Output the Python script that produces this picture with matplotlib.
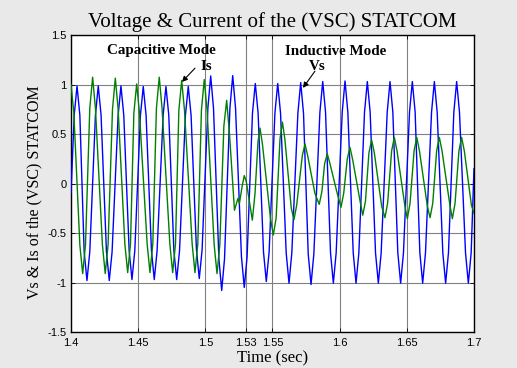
import matplotlib
matplotlib.use("Agg")
import matplotlib.pyplot as plt

# Vs (blue) (peaks, troughs, shoulders)
vs_t = [1.4000, 1.4024, 1.4045, 1.4066, 1.4098, 1.4119, 1.4140, 1.4182,
        1.4203, 1.4224, 1.4264, 1.4285, 1.4306, 1.4351, 1.4372, 1.4393,
        1.4433, 1.4454, 1.4475, 1.4517, 1.4538, 1.4559, 1.4599, 1.4620,
        1.4641, 1.4686, 1.4707, 1.4728, 1.4766, 1.4787, 1.4808, 1.4852,
        1.4873, 1.4894, 1.4934, 1.4955, 1.4976, 1.5019, 1.5040, 1.5061,
        1.5101, 1.5122, 1.5143, 1.5183, 1.5204, 1.5225, 1.5269, 1.5290,
        1.5311, 1.5351, 1.5372, 1.5393, 1.5433, 1.5454, 1.5475, 1.5518,
        1.5539, 1.5560, 1.5602, 1.5623, 1.5644, 1.5689, 1.5710, 1.5731,
        1.5766, 1.5787, 1.5808, 1.5853, 1.5874, 1.5895, 1.5932, 1.5953,
        1.5974, 1.6019, 1.6040, 1.6061, 1.6101, 1.6122, 1.6143, 1.6185,
        1.6206, 1.6227, 1.6267, 1.6288, 1.6309, 1.6354, 1.6375, 1.6396,
        1.6433, 1.6454, 1.6475, 1.6520, 1.6541, 1.6562, 1.6597, 1.6618,
        1.6639, 1.6684, 1.6705, 1.6726, 1.6768, 1.6789, 1.6810, 1.6850,
        1.6871, 1.6892, 1.6937, 1.6958, 1.6979, 1.7000]
vs_v = [-0.10, 0.69, 0.986, 0.69, -0.69, -0.98, -0.69, 0.69,
        0.986, 0.69, -0.69, -0.98, -0.69, 0.69, 0.986, 0.69,
        -0.68, -0.97, -0.68, 0.69, 0.98, 0.69, -0.68, -0.97,
        -0.68, 0.69, 0.98, 0.69, -0.68, -0.97, -0.68, 0.69,
        0.98, 0.69, -0.67, -0.96, -0.67, 0.76, 1.087, 0.76,
        -0.76, -1.08, -0.76, 0.76, 1.09, 0.76, -0.74, -1.05,
        -0.74, 0.71, 1.01, 0.71, -0.69, -0.99, -0.69, 0.71,
        1.01, 0.71, -0.70, -1.007, -0.70, 0.71, 1.02, 0.71,
        -0.71, -1.02, -0.71, 0.72, 1.03, 0.72, -0.70, -1.007,
        -0.70, 0.72, 1.036, 0.72, -0.70, -1.007, -0.70, 0.72,
        1.03, 0.72, -0.70, -1.007, -0.70, 0.72, 1.03, 0.72,
        -0.70, -1.007, -0.70, 0.72, 1.03, 0.72, -0.70, -1.007,
        -0.70, 0.72, 1.03, 0.72, -0.70, -1.007, -0.70, 0.72,
        1.03, 0.72, -0.70, -1.007, -0.70, 0.15]

# Is (green) (peaks, troughs, kinks)
is_t = [1.4000, 1.4021, 1.4066, 1.4087, 1.4108, 1.4140, 1.4161, 1.4182,
        1.4234, 1.4255, 1.4276, 1.4309, 1.4330, 1.4351, 1.4401, 1.4422,
        1.4443, 1.4468, 1.4489, 1.4510, 1.4567, 1.4588, 1.4609, 1.4636,
        1.4657, 1.4678, 1.4736, 1.4757, 1.4778, 1.4803, 1.4824, 1.4845,
        1.4902, 1.4923, 1.4944, 1.4971, 1.4992, 1.5013, 1.5066, 1.5087,
        1.5108, 1.5138, 1.5159, 1.5180, 1.5217, 1.5243, 1.5254, 1.5275,
        1.5290, 1.5305, 1.5350, 1.5370, 1.5392, 1.5407, 1.5425, 1.5485,
        1.5506, 1.5527, 1.5556, 1.5574, 1.5592, 1.5640, 1.5660, 1.5680,
        1.5722, 1.5742, 1.5762, 1.5816, 1.5848, 1.5868, 1.5888, 1.5908,
        1.5928, 1.5982, 1.6010, 1.6030, 1.6057, 1.6077, 1.6097, 1.6151,
        1.6172, 1.6192, 1.6218, 1.6238, 1.6258, 1.6313, 1.6337, 1.6357,
        1.6387, 1.6407, 1.6427, 1.6486, 1.6504, 1.6524, 1.6554, 1.6574,
        1.6594, 1.6653, 1.6673, 1.6693, 1.6722, 1.6742, 1.6762, 1.6822,
        1.6839, 1.6859, 1.6888, 1.6908, 1.6928, 1.6981, 1.7000]
is_v = [1.0, 0.72, -0.62, -0.91, -0.62, 0.76, 1.074, 0.76,
        -0.62, -0.91, -0.62, 0.75, 1.064, 0.75, -0.61, -0.90,
        -0.61, 0.71, 1.006, 0.71, -0.61, -0.90, -0.61, 0.76,
        1.074, 0.76, -0.61, -0.90, -0.61, 0.74, 1.04, 0.74,
        -0.61, -0.90, -0.61, 0.74, 1.05, 0.74, -0.62, -0.91,
        -0.62, 0.58, 0.84, 0.50, -0.27, -0.15, -0.20, -0.02,
        0.08, 0.02, -0.37, -0.10, 0.42, 0.56, 0.40, -0.35,
        -0.52, -0.35, 0.45, 0.62, 0.45, -0.25, -0.365, -0.22,
        0.28, 0.40, 0.28, -0.10, -0.21, -0.08, 0.20, 0.30,
        0.20, -0.10, -0.24, -0.10, 0.25, 0.365, 0.24, -0.17,
        -0.32, -0.18, 0.31, 0.44, 0.31, -0.23, -0.345, -0.20,
        0.33, 0.466, 0.33, -0.23, -0.355, -0.20, 0.33, 0.466,
        0.33, -0.23, -0.345, -0.20, 0.33, 0.466, 0.33, -0.23,
        -0.355, -0.20, 0.33, 0.466, 0.33, -0.22, -0.30]

x_ticks = [1.4, 1.45, 1.5, 1.53, 1.55, 1.6, 1.65, 1.7]
x_labels = ["1.4", "1.45", "1.5", "1.53", "1.55", "1.6", "1.65", "1.7"]
y_ticks = [-1.5, -1, -0.5, 0, 0.5, 1, 1.5]
y_labels = ["-1.5", "-1", "-0.5", "0", "0.5", "1", "1.5"]

serif = "Liberation Serif"
sans = "Liberation Sans"

fig = plt.figure(figsize=(5.17, 3.68), dpi=100, facecolor="#e9e9e9")
ax = fig.add_axes([0.1373, 0.0978, 0.7795, 0.807])
ax.set_facecolor("white")

ax.plot(vs_t, vs_v, color="#0000ff", lw=1.0, zorder=3)
ax.plot(is_t, is_v, color="#008000", lw=1.0, zorder=4)

ax.set_xlim(1.4, 1.7)
ax.set_ylim(-1.5, 1.5)
ax.set_xticks(x_ticks)
ax.set_xticklabels(x_labels, family=sans, fontsize=8)
ax.set_yticks(y_ticks)
ax.set_yticklabels(y_labels, family=sans, fontsize=8)
ax.tick_params(axis="x", direction="in", length=3, width=0.6, top=True,
               pad=4)
ax.tick_params(axis="y", direction="in", length=3, width=0.6, right=True,
               pad=3)
ax.grid(True, color="#808080", lw=0.8)
for s in ax.spines.values():
    s.set_linewidth(1.0)
    s.set_color("black")

ax.set_title("Voltage & Current of the (VSC) STATCOM", family=serif,
             fontsize=15, pad=6)
ax.set_xlabel("Time (sec)", family=serif, fontsize=12, labelpad=2)
ax.set_ylabel("Vs & Is of the (VSC) STATCOM", family=serif, fontsize=11.5)
ax.yaxis.set_label_coords(-0.072, 0.47)

bold = dict(family=serif, fontsize=10.8, fontweight="bold", ha="center",
            va="center", zorder=6)
arrow = dict(arrowstyle="-|>", color="black", lw=0.8, mutation_scale=8,
             shrinkA=0, shrinkB=0)
ax.text(1.4670, 1.345, "Capacitive Mode", **bold)
ax.text(1.5969, 1.33, "Inductive Mode", **bold)
ax.text(1.5004, 1.185, "Is", **bold)
ax.text(1.5835, 1.185, "Vs", **bold)
ax.annotate("", xy=(1.4826, 1.026), xytext=(1.4923, 1.165),
            arrowprops=arrow, zorder=6)
ax.annotate("", xy=(1.5727, 0.966), xytext=(1.5816, 1.135),
            arrowprops=arrow, zorder=6)

fig.savefig("out.png", dpi=100, facecolor=fig.get_facecolor())
